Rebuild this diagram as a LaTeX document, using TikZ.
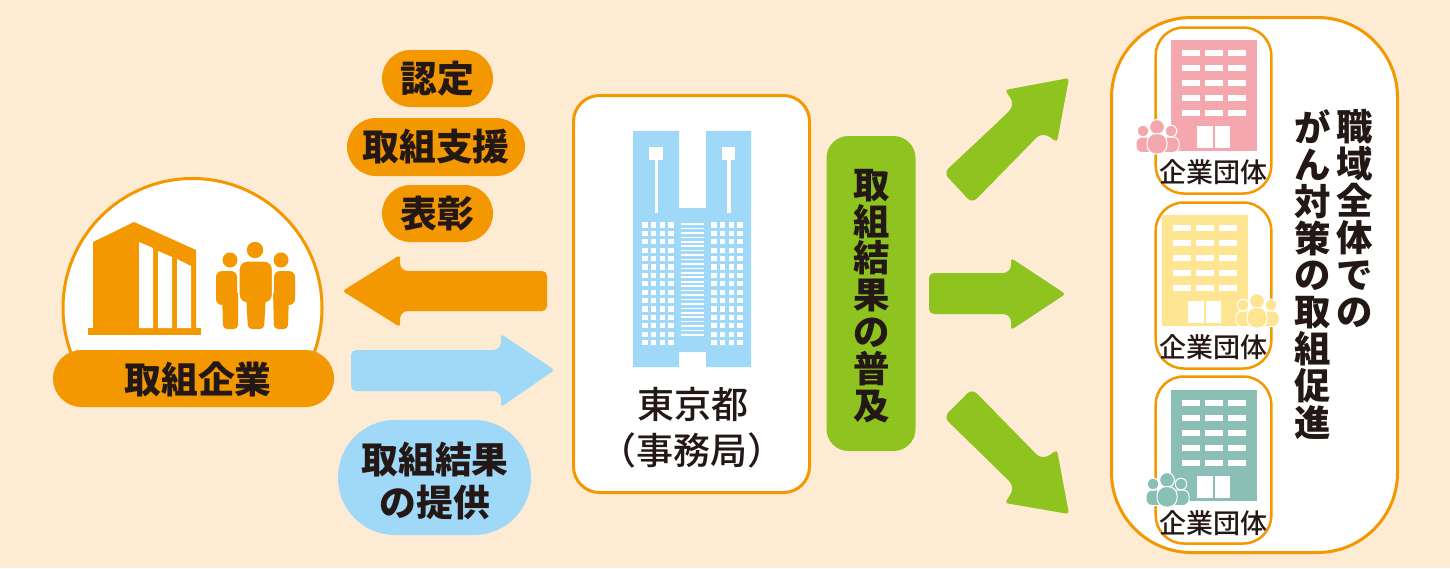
\documentclass[tikz,border=0pt]{standalone}
\usepackage{fontspec}
\newfontfamily\cjkreg{Noto Sans CJK JP Medium}
\newfontfamily\cjkhvy{Noto Sans CJK JP Black}
\definecolor{bgc}{HTML}{FDEBD3}
\definecolor{org}{HTML}{F39800}
\definecolor{blu}{HTML}{A0D8F7}
\definecolor{grn}{HTML}{8FC31F}
\definecolor{pnk}{HTML}{F5A7AE}
\definecolor{yel}{HTML}{FEE592}
\definecolor{tea}{HTML}{89BFB4}
\definecolor{ink}{HTML}{231815}
\tikzset{
  pill/.style={fill=org,inner sep=0pt,text=ink,font=\cjkhvy\fontsize{18.4}{18.4}\selectfont},
  panel/.style={draw=org,line width=1.5pt,fill=white,inner sep=0pt},
  smallpanel/.style={panel,line width=1.25pt,minimum width=57.8pt,rounded corners=14pt},
  vtext/.style={align=center,inner sep=0pt,text=ink,font=\cjkhvy\fontsize{18.2}{18.45}\selectfont},
  orglabel/.style={inner sep=0pt,text=ink,font=\cjkreg\fontsize{13.5}{13.5}\selectfont},
  citylabel/.style={inner sep=0pt,text=ink,font=\cjkreg\fontsize{18.5}{18.5}\selectfont},
}
% tall office building: #1 x, #2 y of top-left, #3 colour
\newcommand{\officeblock}[3]{%
  \begin{scope}[shift={(#1,#2)}]
    \fill[#3] (0,0) rectangle (86,111);
    \foreach \rr in {10,25,40,55,70}{
      \foreach \cc in {11,34,57}{
        \fill[white] (\cc,\rr) rectangle ++(18,6);
      }
    }
    \fill[white] (26,86) rectangle (42,108);
    \fill[white] (44,86) rectangle (59,108);
  \end{scope}}
% people group: #1 x, #2 y of the big head, #3 colour
\newcommand{\peoplegroup}[3]{%
  \begin{scope}[shift={(#1,#2)}]
    \filldraw[#3,draw=white,line width=0.5pt] (-14,4) circle (5.8);
    \filldraw[#3,draw=white,line width=0.5pt] (14,4) circle (5.8);
    \filldraw[#3,draw=white,line width=0.5pt,rounded corners=3pt] (-21,10) rectangle (-3,25.5);
    \filldraw[#3,draw=white,line width=0.5pt,rounded corners=3pt] (3,10) rectangle (22,25.5);
    \filldraw[#3,draw=white,line width=0.5pt] (0,0) circle (7.4);
    \filldraw[#3,draw=white,line width=0.5pt,rounded corners=4.5pt] (-10,6.5) rectangle (10,27);
  \end{scope}}
\begin{document}
\begin{tikzpicture}[x=0.5pt,y=-0.5pt]
\useasboundingbox (0,0) rectangle (1450,568);
\fill[bgc] (0,0) rectangle (1450,568);

% left: circle
\begin{scope}
  \clip (40,160) rectangle (340,370);
  \filldraw[fill=white,draw=org,line width=1.5pt] (192.5,308) circle (129.5);
\end{scope}
% building
\fill[org] (93,242) -- (134,222) -- (196,250) -- (196,330) -- (93,330) -- cycle;
\fill[org] (88,328) rectangle (201,335);
\fill[white] (139,242) -- (153,248) -- (153,328) -- (139,328) -- cycle;
\fill[white] (158,251) -- (172,257) -- (172,328) -- (158,328) -- cycle;
\fill[white] (177,259) -- (191,266) -- (191,328) -- (177,328) -- cycle;
% people
\fill[org] (255,250) circle (8.2);
\fill[org] (230,260) circle (7.5);
\fill[org] (281,260) circle (7.5);
\fill[org,rounded corners=3pt] (216,271) rectangle (237,305);
\fill[org,rounded corners=2pt] (222,290) -- (238,290) -- (238,329) -- (223,329) -- cycle;
\fill[org,rounded corners=3pt] (274,271) rectangle (295,305);
\fill[org,rounded corners=2pt] (273,290) -- (289,290) -- (288,329) -- (274,329) -- cycle;
\filldraw[org,draw=white,line width=0.7pt,rounded corners=4pt] (239,261) rectangle (272.5,303);
\fill[org,rounded corners=2pt] (246,295) -- (266,295) -- (264,329) -- (248,329) -- cycle;
\node[pill,minimum width=140.5pt,minimum height=28.5pt,rounded corners=14.25pt] (kigyo) at (193.5,378.5) {};
\node[inner sep=0pt,text=ink,font=\cjkhvy\fontsize{18.4}{18.4}\selectfont] (kigyotext) at (198,379) {取組企業};

% orange pills
\node[pill,minimum width=55.5pt,minimum height=28.5pt,rounded corners=14.25pt] (nintei) at (437.5,78.5) {認定};
\node[pill,minimum width=89pt,minimum height=29pt,rounded corners=14.5pt] (shien) at (436,147) {取組支援};
\node[pill,minimum width=55.5pt,minimum height=28.5pt,rounded corners=14.25pt] (hyosho) at (437.5,213.5) {表彰};
% blue label
\node[fill=blu,inner sep=0pt,minimum width=96.5pt,minimum height=57.5pt,rounded corners=28.5pt] (kekka) at (434.5,477.5) {};
\node[align=center,inner sep=0pt,text=ink,font=\cjkhvy\fontsize{18.4}{21.5}\selectfont] (kekkatext) at (435,481) {取組結果\\の提供};

% orange arrow (left)
\fill[org,rounded corners=2.5pt] (547,291) -- (547,271) -- (480,271)
  [rounded corners=4pt] -- (400,271) [rounded corners=1.5pt] -- (400,255) -- (342.5,291)
  -- (400,327) [rounded corners=4pt] -- (400,311) [rounded corners=2.5pt] -- (547,311) -- cycle;
% blue arrow (right)
\fill[blu,rounded corners=2.5pt] (351,370) -- (351,350) -- (440,350)
  [rounded corners=4pt] -- (501,350) [rounded corners=1.5pt] -- (501,334) -- (554.5,370)
  -- (501,407) [rounded corners=4pt] -- (501,391) [rounded corners=2.5pt] -- (351,391) -- cycle;

% centre panel
\node[panel,minimum width=118pt,minimum height=198.5pt,rounded corners=13pt] (tocho) at (691.5,294) {};
\fill[blu] (633,131) -- (679,131) -- (679,208) -- (706,208) -- (706,131) -- (751,131) -- (751,367)
  -- (706,367) -- (706,352) -- (679,352) -- (679,367) -- (633,367) -- cycle;
\fill[white] (649,147) rectangle (663,160);
\fill[white] (722,147) rectangle (735,160);
\fill[white] (654.5,160) rectangle (658,213);
\fill[white] (727,160) rectangle (731,213);
\foreach \ii in {0,...,14}{
  \pgfmathsetmacro{\yy}{225+8.4*\ii}
  \foreach \xx in {645,653.7,662.5,671,714,722.7,731.5,740}{
    \fill[white] (\xx-2.6,\yy-2.6) rectangle (\xx+2.6,\yy+2.6);
  }
}
\foreach \ii in {0,...,25}{
  \pgfmathsetmacro{\yy}{224+4.44*\ii}
  \fill[white] (681,\yy-0.8) rectangle (704,\yy+0.8);
}
\node[citylabel] (tokyo) at (692.5,404) {東京都};
\node[citylabel] (jimu) at (692,450) {（事務局）};

% green label
\node[fill=grn,inner sep=0pt,minimum width=44.5pt,minimum height=157.5pt,rounded corners=11pt] (fukyu) at (871,293.5) {};
\node[vtext] (fukyutext) at (872,296) {取\\組\\結\\果\\の\\普\\及};

% green arrows
\fill[grn,rounded corners=3.5pt] (958,188) -- (943.5,173) -- (1000,120)
  [rounded corners=4pt] -- (1015,105) [rounded corners=1.5pt] -- (1005,90) -- (1069,78)
  -- (1057,142) [rounded corners=4pt] -- (1042,132) [rounded corners=3.5pt] -- (972,203.5) -- cycle;
\fill[grn,rounded corners=2.5pt] (929,294) -- (929,273) -- (1000,273)
  [rounded corners=4pt] -- (1011,273) [rounded corners=1.5pt] -- (1011,258) -- (1065.5,294)
  -- (1011,330) [rounded corners=4pt] -- (1011,314) [rounded corners=2.5pt] -- (929,314) -- cycle;
\fill[grn,rounded corners=3.5pt] (958,403) -- (943.5,417) -- (1000,472)
  [rounded corners=4pt] -- (1015,487) [rounded corners=1.5pt] -- (1005,503) -- (1069,514)
  -- (1057,450) [rounded corners=4pt] -- (1042,460) [rounded corners=3.5pt] -- (972,388.5) -- cycle;

% right panel
\node[panel,minimum width=143pt,minimum height=267.5pt,rounded corners=40pt] (shokuiki) at (1254.5,285) {};
\node[smallpanel,minimum height=83pt] (dan1) at (1213.5,110.5) {};
\node[smallpanel,minimum height=83pt] (dan2) at (1213.5,285.5) {};
\node[smallpanel,minimum height=83.5pt] (dan3) at (1213.5,460) {};

\officeblock{1171}{40}{pnk}
\officeblock{1162}{215}{yel}
\officeblock{1171}{390}{tea}
\peoplegroup{1157}{127}{pnk}
\peoplegroup{1257}{301}{yel}
\peoplegroup{1167}{480}{tea}
\node[orglabel] (lab1) at (1213.5,172) {企業団体};
\node[orglabel] (lab2) at (1213.5,347.5) {企業団体};
\node[orglabel] (lab3) at (1213.5,523) {企業団体};

\node[vtext,anchor=north] (col1) at (1355,109) {職\\域\\全\\体\\で\\の};
\node[vtext,anchor=north] (col2) at (1313,109) {が\\ん\\対\\策\\の\\取\\組\\促\\進};
\end{tikzpicture}
\end{document}
